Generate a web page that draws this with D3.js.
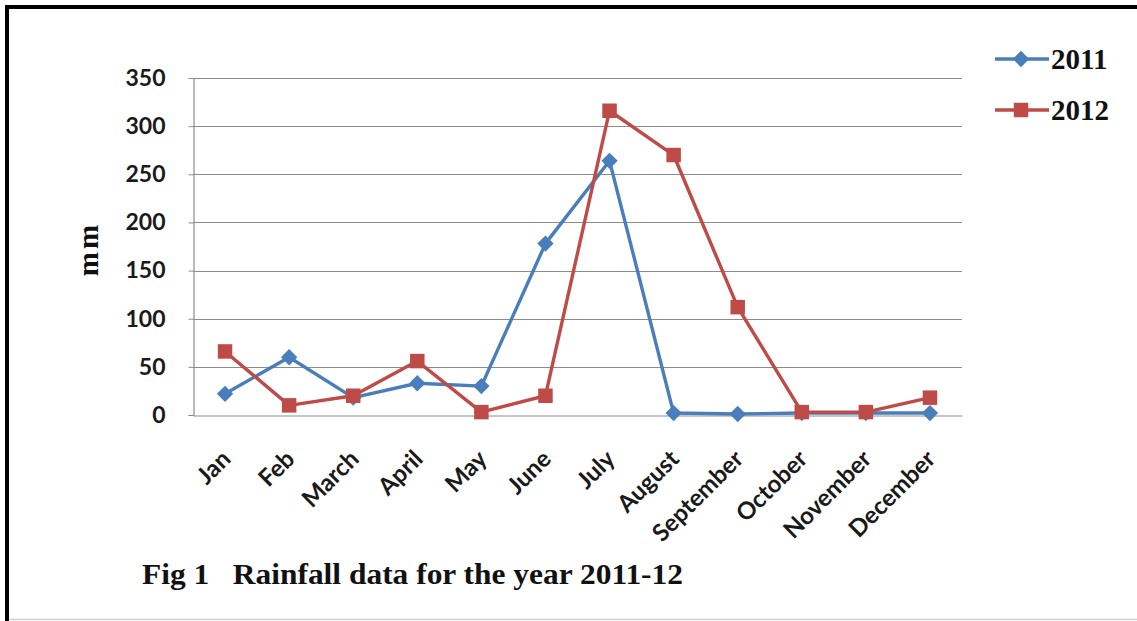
<!DOCTYPE html>
<html>
<head>
<meta charset="utf-8">
<script src="https://cdn.jsdelivr.net/npm/d3@7/dist/d3.min.js"></script>
<style>
  html, body { margin: 0; padding: 0; background: #fff; }
  svg { display: block; }
</style>
</head>
<body>
<svg id="chart" width="1137" height="621"></svg>
<script>
// Monthly rainfall (mm)
const months = ["Jan", "Feb", "March", "April", "May", "June", "July",
                "August", "September", "October", "November", "December"];
const rain2011 = [22, 60, 18, 33, 30, 178, 264, 2, 1, 2, 2, 2];
const rain2012 = [66, 10, 20, 56, 3, 20, 316, 270, 112, 3, 3, 18];
const seriesNames = ["2011", "2012"];
const yTicks = [0, 50, 100, 150, 200, 250, 300, 350];
const caption = "Fig 1   Rainfall data for the year 2011-12";
const yTitle = "mm";

const svg = d3.select("#chart");
const W = 1137, H = 621;

// page frame: heavy rule on top and left, faint rule at the bottom
svg.append("line").attr("x1", 7).attr("x2", W).attr("y1", 7).attr("y2", 7)
  .attr("stroke", "#000").attr("stroke-width", 4);
svg.append("line").attr("x1", 7).attr("x2", 7).attr("y1", 5).attr("y2", H)
  .attr("stroke", "#000").attr("stroke-width", 4);
svg.append("line").attr("x1", 9).attr("x2", W).attr("y1", 619.5).attr("y2", 619.5)
  .attr("stroke", "#cfcfcf").attr("stroke-width", 1.5);

const plot = { left: 193, right: 962, top: 78, bottom: 415 };

const x = d3.scaleBand().domain(months).range([plot.left, plot.right]);
const y = d3.scaleLinear().domain([0, 350]).range([plot.bottom, plot.top]);
const cx = m => x(m) + x.bandwidth() / 2;

// horizontal gridlines
svg.append("g").selectAll("line").data(yTicks.filter(t => t > 0)).join("line")
  .attr("x1", plot.left).attr("x2", plot.right)
  .attr("y1", d => Math.round(y(d)) + 0.5).attr("y2", d => Math.round(y(d)) + 0.5)
  .attr("stroke", "#8c8c8c").attr("stroke-width", 1.2);

// y axis
const yAxis = svg.append("g")
  .attr("transform", `translate(${plot.left + 0.5},0)`)
  .call(d3.axisLeft(y).tickValues(yTicks).tickSize(5).tickPadding(23));
yAxis.select(".domain").attr("stroke", "#8c8c8c").attr("stroke-width", 1.2);
yAxis.selectAll(".tick line").attr("stroke", "#8c8c8c");
yAxis.selectAll("text")
  .attr("font-family", "Lato, 'Open Sans', sans-serif")
  .attr("font-weight", 700).attr("font-size", 23).attr("fill", "#1a1a1a");

// x axis
const xAxis = svg.append("g")
  .attr("transform", `translate(0,${Math.round(plot.bottom) + 0.5})`)
  .call(d3.axisBottom(x).tickSize(0).tickPadding(0));
xAxis.select(".domain").attr("stroke", "#8c8c8c").attr("stroke-width", 1.2);
xAxis.selectAll("text")
  .attr("font-family", "Lato, 'Open Sans', sans-serif")
  .attr("font-weight", 700).attr("font-size", 24).attr("fill", "#1a1a1a")
  .attr("text-anchor", "end")
  .attr("dy", 0)
  .attr("transform", "translate(7,45) rotate(-45)");

// y axis title
svg.append("text")
  .attr("transform", "translate(98,249) rotate(-90)")
  .attr("text-anchor", "middle")
  .attr("font-family", "'Liberation Serif', 'Times New Roman', serif")
  .attr("font-weight", 700).attr("font-size", 29).attr("fill", "#111")
  .attr("letter-spacing", 3)
  .text(yTitle);

// series
const blue = "#4a7ebb", red = "#be4b48";
const series = [
  { name: seriesNames[0], values: rain2011, color: blue, shape: "diamond" },
  { name: seriesNames[1], values: rain2012, color: red, shape: "square" }
];

const line = d3.line().x((d, i) => cx(months[i])).y(d => y(d));
const diamond = d3.symbol().type(d3.symbolDiamond2).size(170);
const square = d3.symbol().type(d3.symbolSquare).size(210);
const sym = s => (s === "diamond" ? diamond() : square());

series.forEach(s => {
  svg.append("path").datum(s.values)
    .attr("d", line).attr("fill", "none")
    .attr("stroke", s.color).attr("stroke-width", 3.4)
    .attr("stroke-linejoin", "round");
  svg.append("g").selectAll("path").data(s.values).join("path")
    .attr("transform", (d, i) => `translate(${cx(months[i])},${y(d)})`)
    .attr("d", sym(s.shape)).attr("fill", s.color);
});

// legend
const legend = svg.append("g");
series.forEach((s, i) => {
  const ly = 59 + i * 51;
  legend.append("line").attr("x1", 995).attr("x2", 1049).attr("y1", ly).attr("y2", ly)
    .attr("stroke", s.color).attr("stroke-width", 3.4);
  legend.append("path").attr("transform", `translate(1021,${ly})`)
    .attr("d", sym(s.shape)).attr("fill", s.color);
  legend.append("text").attr("x", 1051).attr("y", ly + 10)
    .attr("font-family", "'Liberation Serif', 'Times New Roman', serif")
    .attr("font-weight", 700).attr("font-size", 29).attr("fill", "#111")
    .text(s.name);
});

// caption
svg.append("text").attr("x", 142).attr("y", 584)
  .attr("font-family", "'Liberation Serif', 'Times New Roman', serif")
  .attr("font-weight", 700).attr("font-size", 30).attr("fill", "#111")
  .attr("xml:space", "preserve")
  .attr("textLength", 541).attr("lengthAdjust", "spacingAndGlyphs")
  .text(caption);
</script>
</body>
</html>
